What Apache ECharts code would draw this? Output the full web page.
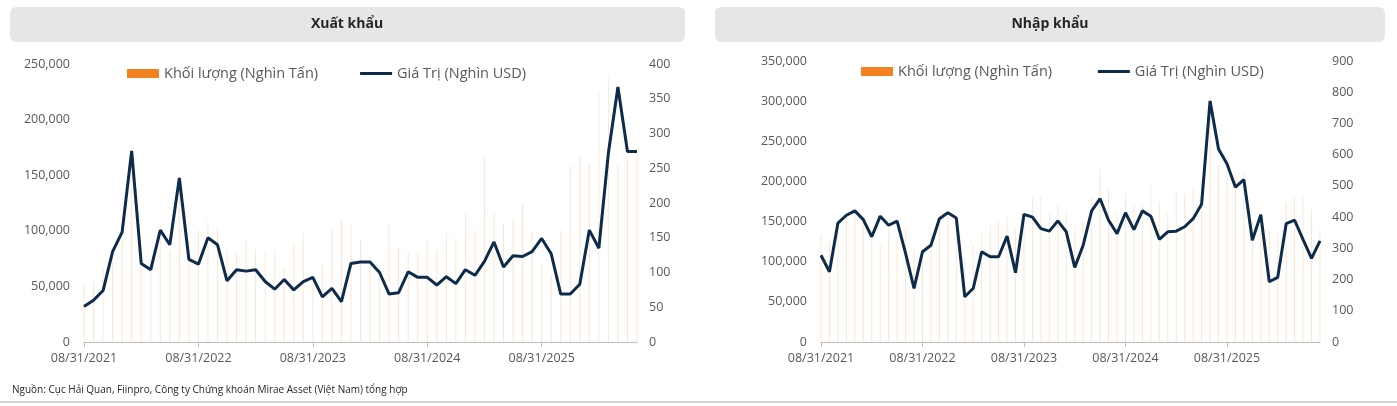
<!DOCTYPE html>
<html><head><meta charset="utf-8">
<script src="https://cdn.jsdelivr.net/npm/echarts@6/dist/echarts.min.js"></script>
<style>html,body{margin:0;padding:0;background:#fff}#c{width:1397px;height:406px}</style>
</head><body><div id="c"></div>
<script>
const tickLabels = ['08/31/2021','08/31/2022','08/31/2023','08/31/2024','08/31/2025'];
const xkVolume = [51,54,66,83,92,150,79,68,105,83,143,90,100,108,102,83,80,92,83,80,83,68,88,98,60,70,102,111,106,92,76,68,107,85,80,80,93,83,98,93,115,100,167,115,106,111,125,100,70,60,100,158,168,160,224,237,159,164,170];
const xkValue = [51,60,74,130,158,275,113,104,161,140,236,119,112,150,140,88,104,102,104,87,76,90,75,87,93,65,77,58,113,115,115,100,69,71,101,93,93,82,94,84,104,96,116,144,108,124,123,130,149,127,69,69,83,161,135,272,367,274,274];
const nkVolume = [133,125,150,160,160,150,140,120,140,130,140,115,110,140,150,160,150,105,120,135,145,150,155,140,165,180,180,160,170,160,145,150,180,215,190,160,185,170,170,195,175,160,185,185,190,200,305,220,210,205,210,150,150,140,135,175,180,180,165,140];
const nkValue = [278,225,381,406,420,392,337,403,374,387,284,172,289,310,395,414,397,145,172,289,273,273,339,222,409,400,363,355,388,353,239,310,420,459,390,347,414,360,420,403,329,353,355,369,395,441,772,618,571,496,520,326,408,193,207,379,390,328,268,324];

function cats(n){const a=[];for(let i=0;i<n;i++){const yr=2021+Math.floor((i+7)/12);const m=((i+7)%12)+1;a.push(m===8?'08/31/'+yr:m+'/'+yr);}return a;}
const catsL = cats(xkValue.length), catsR = cats(nkValue.length);

const font = '"Open Sans","Noto Sans",sans-serif';
const lbl = {color:'#595959',fontSize:12.5,fontFamily:font};
const VOL='Khối lượng (Nghìn Tấn)', VAL='Giá Trị (Nghìn USD)';
const lineIcon='path://M0,3h30v3h-30z';
function xAxis(g,c){return {type:'category',gridIndex:g,data:c,boundaryGap:false,
  axisLine:{lineStyle:{color:'#bfbfbf'}},axisTick:{interval:11,length:5,lineStyle:{color:'#bfbfbf'}},
  axisLabel:Object.assign({interval:11,margin:10,formatter:v=>tickLabels.includes(v)?v:''},lbl)};}
function yAxis(g,max,iv,pos){return {type:'value',gridIndex:g,min:0,max:max,interval:iv,position:pos,
  splitLine:{show:false},axisLine:{show:false},axisTick:{show:false},
  axisLabel:Object.assign({formatter:v=>v.toLocaleString('en-US'),margin:pos==='left'?14:12},lbl)};}
const legTxt = Object.assign({},lbl,{fontSize:14.5});
const chart = echarts.init(document.getElementById('c'));
chart.setOption({
  animation:false,
  graphic:[
    {type:'rect',shape:{x:10,y:7,width:675,height:35,r:6},style:{fill:'#e7e6e6'}},
    {type:'rect',shape:{x:715,y:7,width:670,height:35,r:6},style:{fill:'#e7e6e6'}},
    {type:'text',x:347,y:24,style:{text:'Xuất khẩu',font:'bold 14px '+font,fill:'#262626',align:'center',verticalAlign:'middle'}},
    {type:'text',x:1050,y:24,style:{text:'Nhập khẩu',font:'bold 14px '+font,fill:'#262626',align:'center',verticalAlign:'middle'}},
    {type:'text',x:12,y:390,style:{text:'Nguồn: Cục Hải Quan, Fiinpro, Công ty Chứng khoán Mirae Asset (Việt Nam) tổng hợp',font:'10px '+font,fill:'#262626',verticalAlign:'middle'}},
    {type:'line',shape:{x1:0,y1:402,x2:1397,y2:402},style:{stroke:'#a6a6a6',lineWidth:1}}
  ],
  legend:[
    {left:122,top:61,itemGap:42,itemWidth:32,itemHeight:9,textStyle:legTxt,
     data:[{name:VOL,icon:'rect',itemStyle:{color:'#F58220'}},{name:VAL,icon:lineIcon,itemStyle:{color:'#0D2B4B'}}]},
    {left:856,top:59,itemGap:42,itemWidth:32,itemHeight:9,textStyle:legTxt,
     data:[{name:VOL+' ',icon:'rect',itemStyle:{color:'#F58220'}},{name:VAL+' ',icon:lineIcon,itemStyle:{color:'#0D2B4B'}}]}
  ],
  grid:[{left:84,right:760,top:64,bottom:64},{left:821,right:77,top:61,bottom:64}],
  xAxis:[xAxis(0,catsL),xAxis(1,catsR)],
  yAxis:[yAxis(0,250000,50000,'left'),yAxis(0,400,50,'right'),yAxis(1,350000,50000,'left'),yAxis(1,900,100,'right')],
  series:[
    {name:VOL,type:'bar',xAxisIndex:0,yAxisIndex:0,barWidth:1,data:xkVolume.map(v=>v*1000),itemStyle:{color:'rgba(245,130,32,0.2)'}},
    {name:VAL,type:'line',xAxisIndex:0,yAxisIndex:1,data:xkValue,symbol:'none',lineStyle:{width:3,color:'#0D2B4B'},itemStyle:{color:'#0D2B4B'}},
    {name:VOL+' ',type:'bar',xAxisIndex:1,yAxisIndex:2,barWidth:1,data:nkVolume.map(v=>v*1000),itemStyle:{color:'rgba(245,130,32,0.2)'}},
    {name:VAL+' ',type:'line',xAxisIndex:1,yAxisIndex:3,data:nkValue,symbol:'none',lineStyle:{width:3,color:'#0D2B4B'},itemStyle:{color:'#0D2B4B'}}
  ]
});
</script></body></html>
